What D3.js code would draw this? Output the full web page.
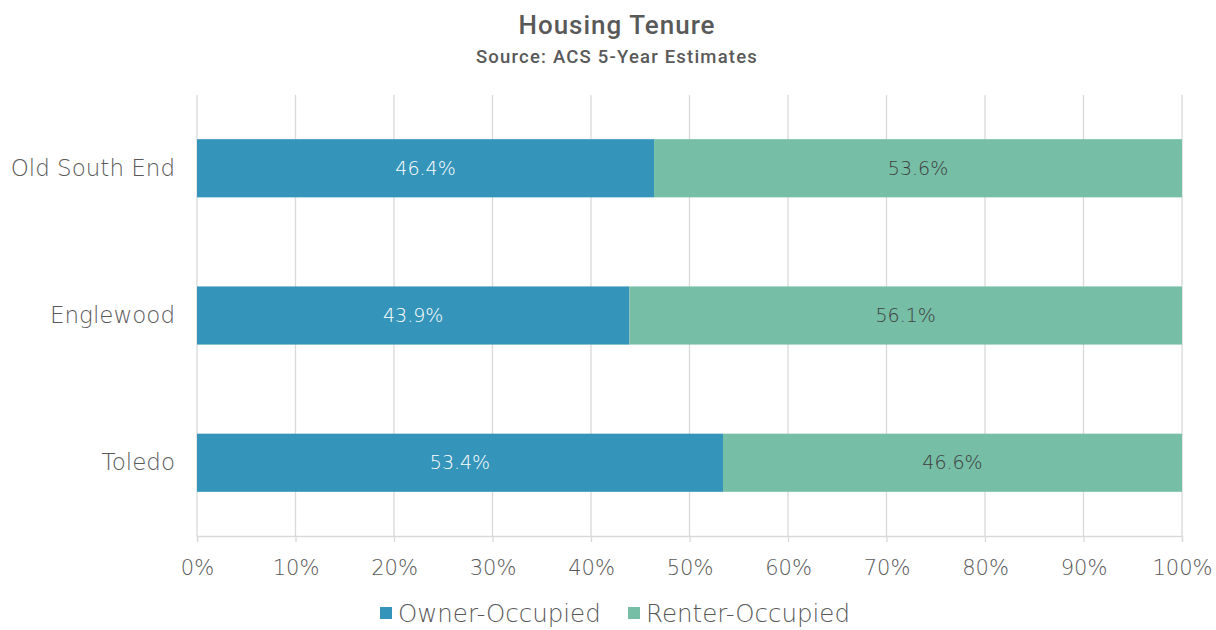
<!DOCTYPE html>
<html>
<head>
<meta charset="utf-8">
<script src="https://cdn.jsdelivr.net/npm/d3@7"></script>
<style>
  body { margin: 0; background: #fff; }
  text { font-family: "DejaVu Sans", sans-serif; font-weight: 200; }
</style>
</head>
<body>
<div id="chart"></div>
<script>
var width = 1216;
var height = 630;

var categories = ["Old South End", "Englewood", "Toledo"];
var ownerValues = [46.4, 43.9, 53.4];
var renterValues = [53.6, 56.1, 46.6];
var seriesNames = ["Owner-Occupied", "Renter-Occupied"];
var seriesColors = ["#3494ba", "#76bea6"];
var xTicks = [0, 10, 20, 30, 40, 50, 60, 70, 80, 90, 100];

var svg = d3.select("#chart")
  .append("svg")
  .attr("width", width)
  .attr("height", height);

var x = d3.scaleLinear().domain([0, 100]).range([197, 1182]);
var y = d3.scaleBand().domain(categories).range([95, 536]).paddingInner(0.605).paddingOuter(0.3);

// title
svg.append("text")
  .attr("x", 617).attr("y", 34)
  .attr("text-anchor", "middle")
  .style("font-family", "Roboto, sans-serif")
  .style("font-size", "26px")
  .style("font-weight", "500")
  .style("letter-spacing", "1px")
  .attr("fill", "#595959")
  .text("Housing Tenure");

svg.append("text")
  .attr("x", 617).attr("y", 63)
  .attr("text-anchor", "middle")
  .style("font-family", "Roboto, sans-serif")
  .style("font-size", "18.5px")
  .style("font-weight", "500")
  .style("letter-spacing", "1.2px")
  .attr("fill", "#595959")
  .text("Source: ACS 5-Year Estimates");

// gridlines
svg.append("g")
  .selectAll("line")
  .data(xTicks)
  .enter()
  .append("line")
  .attr("x1", function(d) { return x(d); })
  .attr("x2", function(d) { return x(d); })
  .attr("y1", 95)
  .attr("y2", 536)
  .attr("stroke", "#d9d9d9")
  .attr("stroke-width", 1.3);

// x axis
var xAxis = d3.axisBottom(x)
  .tickValues(xTicks)
  .tickSize(6)
  .tickFormat(function(d) { return d + "%"; });

var gx = svg.append("g")
  .attr("transform", "translate(0,536)")
  .call(xAxis);
gx.select(".domain").attr("stroke", "#d9d9d9").attr("stroke-width", 1.3);
gx.selectAll(".tick line").attr("stroke", "#d9d9d9").attr("stroke-width", 1.3);
gx.selectAll(".tick text")
  .attr("y", 24)
  .attr("fill", "#595959")
  .style("font-size", "21px")
  .style("font-family", "'DejaVu Sans', sans-serif")
  .style("font-weight", "200");

// y axis labels
var yAxis = d3.axisLeft(y).tickSize(0).tickPadding(22);
var gy = svg.append("g")
  .attr("transform", "translate(197,0)")
  .call(yAxis);
gy.select(".domain").remove();
gy.selectAll(".tick text")
  .attr("fill", "#595959")
  .style("font-size", "23px")
  .style("font-family", "'DejaVu Sans', sans-serif")
  .style("font-weight", "200");

// bars
var rows = categories.map(function(c, i) {
  return { cat: c, owner: ownerValues[i], renter: renterValues[i] };
});

var barG = svg.append("g");
rows.forEach(function(r) {
  var parts = [
    { start: 0, val: r.owner, color: seriesColors[0], tc: "#ffffff" },
    { start: r.owner, val: r.renter, color: seriesColors[1], tc: "#404040" }
  ];
  parts.forEach(function(p) {
    barG.append("rect")
      .attr("x", x(p.start))
      .attr("y", y(r.cat))
      .attr("width", x(p.start + p.val) - x(p.start))
      .attr("height", y.bandwidth())
      .attr("fill", p.color);
    barG.append("text")
      .attr("x", (x(p.start) + x(p.start + p.val)) / 2)
      .attr("y", y(r.cat) + y.bandwidth() / 2)
      .attr("dy", "0.35em")
      .attr("text-anchor", "middle")
      .attr("fill", p.tc)
      .style("font-size", "19px")
      .text(p.val.toFixed(1) + "%");
  });
});

// legend
var legendX = [380, 628];
var legend = svg.append("g")
  .selectAll("g")
  .data(seriesNames)
  .enter()
  .append("g")
  .attr("transform", function(d, i) { return "translate(" + legendX[i] + ",607)"; });

legend.append("rect")
  .attr("width", 12)
  .attr("height", 12)
  .attr("fill", function(d, i) { return seriesColors[i]; });

legend.append("text")
  .attr("x", 18)
  .attr("y", 6)
  .attr("dy", "0.36em")
  .attr("fill", "#595959")
  .style("font-size", "24.5px")
  .text(function(d) { return d; });
</script>
</body>
</html>
